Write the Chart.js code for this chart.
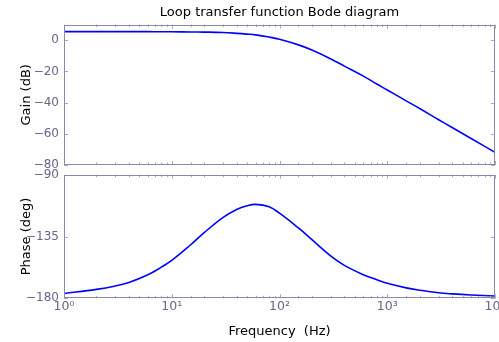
<!DOCTYPE html>
<html>
<head>
<meta charset="utf-8">
<script src="https://cdn.jsdelivr.net/npm/chart.js@4/dist/chart.umd.min.js"></script>
<style>
  html, body { margin: 0; padding: 0; background: #ffffff; overflow: hidden; }
  #wrap { position: relative; width: 499px; height: 342px; }
  canvas { position: absolute; left: 0; top: 0; }
</style>
</head>
<body>
<div id="wrap">
  <canvas id="gainChart" width="499" height="342"></canvas>
  <canvas id="phaseChart" width="499" height="342"></canvas>
</div>
<script>
// ---- Data ----
const frequencies = [1, 2, 3, 4, 6, 8, 10, 15, 20, 30, 40, 50, 60, 80, 100, 150, 200, 300, 400, 600, 800, 1000, 1500, 2000, 3000, 4000, 6000, 10000];
const gainDb = [5.5, 5.5, 5.5, 5.5, 5.5, 5.4, 5.4, 5.3, 5.2, 4.9, 4.4, 3.9, 3.4, 2.0, 0.6, -3.0, -6.3, -12.0, -16.6, -23.0, -28.1, -31.9, -38.9, -43.8, -51.0, -56.0, -63.0, -71.9];
const phaseDeg = [-176.5, -173.5, -171.0, -168.5, -162.9, -157.3, -152.4, -141.0, -132.2, -121.1, -115.3, -112.6, -111.6, -113.3, -118.0, -128.8, -137.3, -149.3, -156.0, -162.8, -166.5, -169.1, -172.4, -174.1, -176.0, -176.8, -177.6, -178.3];
const gainTicks = [-80, -60, -40, -20, 0];
const phaseTicks = [-180, -135, -90];

const titleText = 'Loop transfer function Bode diagram';
const gainLabel = 'Gain (dB)';
const phaseLabel = 'Phase (deg)';
const freqLabel = 'Frequency  (Hz)';

// ---- Styling ----
const FONT = 'DejaVu Sans';
const tickColor = '#67678a';
const frameColor = '#8a8aa6';
const markColor = '#a8a8c0';
const lineColor = '#0000ff';

const sup = {'0':'⁰','1':'¹','2':'²','3':'³','4':'⁴'};
function decadeLabel(v) {
  const e = Math.round(Math.log10(v));
  if (Math.abs(Math.pow(10, e) - v) < 1e-6 * v) return '10' + sup[String(e)];
  return '';
}
function minusLabel(v) { return v < 0 ? '\u2212' + Math.abs(v) : String(v); }

const framePlugin = {
  id: 'frameTicks',
  afterDatasetsDraw(chart) {
    const { ctx, chartArea: a } = chart;
    const xs = chart.scales.x, ys = chart.scales.y;
    ctx.save();
    ctx.strokeStyle = markColor;
    ctx.lineWidth = 1;
    ctx.beginPath();
    xs.ticks.forEach(t => {
      const px = Math.round(xs.getPixelForValue(t.value)) + 0.5;
      const major = decadeLabel(t.value) !== '';
      const len = major ? 4 : 2.5;
      ctx.moveTo(px, a.top); ctx.lineTo(px, a.top + len);
      ctx.moveTo(px, a.bottom); ctx.lineTo(px, a.bottom - len);
    });
    ys.ticks.forEach(t => {
      const py = Math.round(ys.getPixelForValue(t.value)) + 0.5;
      ctx.moveTo(a.left, py); ctx.lineTo(a.left + 4, py);
      ctx.moveTo(a.right, py); ctx.lineTo(a.right - 4, py);
    });
    ctx.stroke();
    ctx.strokeStyle = frameColor;
    ctx.lineWidth = 1;
    const l = Math.round(a.left) + 0.5, t = Math.round(a.top) + 0.5;
    const r = Math.round(a.right) - 0.5, b = Math.round(a.bottom) - 0.5;
    ctx.strokeRect(l, t, r - l, b - t);
    ctx.restore();
  }
};

function makeChart(id, values, yMin, yMax, yTickList, yTitle, opts) {
  return new Chart(document.getElementById(id), {
    type: 'line',
    data: {
      datasets: [{
        data: frequencies.map((f, i) => ({ x: f, y: values[i] })),
        borderColor: lineColor,
        borderWidth: 1.6,
        pointRadius: 0,
        fill: false,
        tension: 0.4
      }]
    },
    options: {
      responsive: false,
      animation: false,
      events: [],
      layout: { padding: { left: 0, right: 4, top: opts.padTop, bottom: 0 } },
      plugins: {
        legend: { display: false },
        tooltip: { enabled: false },
        title: opts.title ? {
          display: true,
          text: opts.title,
          fullSize: false,
          color: '#000000',
          font: { family: FONT, size: 13, weight: 'normal' },
          padding: { top: 5, bottom: 4 }
        } : { display: false }
      },
      scales: {
        x: {
          type: 'logarithmic',
          min: 1,
          max: 10000,
          border: { display: false },
          grid: { display: false, drawTicks: false },
          ticks: {
            display: opts.showX,
            autoSkip: false,
            maxRotation: 0,
            minRotation: 0,
            padding: 1,
            color: tickColor,
            font: { family: FONT, size: 12.5 },
            callback: (v) => decadeLabel(v)
          },
          title: {
            display: opts.showX,
            text: freqLabel,
            color: '#000000',
            font: { family: FONT, size: 13 },
            padding: { top: 0, bottom: 3 }
          },
          afterFit(s) { s.height = opts.xHeight; s.paddingLeft = 0; s.paddingRight = 0; }
        },
        y: {
          type: 'linear',
          min: yMin,
          max: yMax,
          border: { display: false },
          grid: { display: false, drawTicks: false },
          afterBuildTicks(s) { s.ticks = yTickList.map(v => ({ value: v })); },
          ticks: {
            padding: 5,
            color: tickColor,
            font: { family: FONT, size: 12 },
            callback: (v) => minusLabel(v)
          },
          title: {
            display: true,
            text: yTitle,
            color: '#000000',
            font: { family: FONT, size: 13 },
            padding: { top: 18.7, bottom: 0 }
          },
          afterFit(s) { s.width = 64; s.paddingTop = 0; s.paddingBottom = 0; }
        }
      }
    },
    plugins: [framePlugin]
  });
}

makeChart('gainChart', gainDb, -80, 10, gainTicks, gainLabel,
  { title: titleText, showX: false, xHeight: 177, padTop: 0 });
makeChart('phaseChart', phaseDeg, -180, -90, phaseTicks, phaseLabel,
  { title: null, showX: true, xHeight: 43.7, padTop: 174.7 });
</script>
</body>
</html>
